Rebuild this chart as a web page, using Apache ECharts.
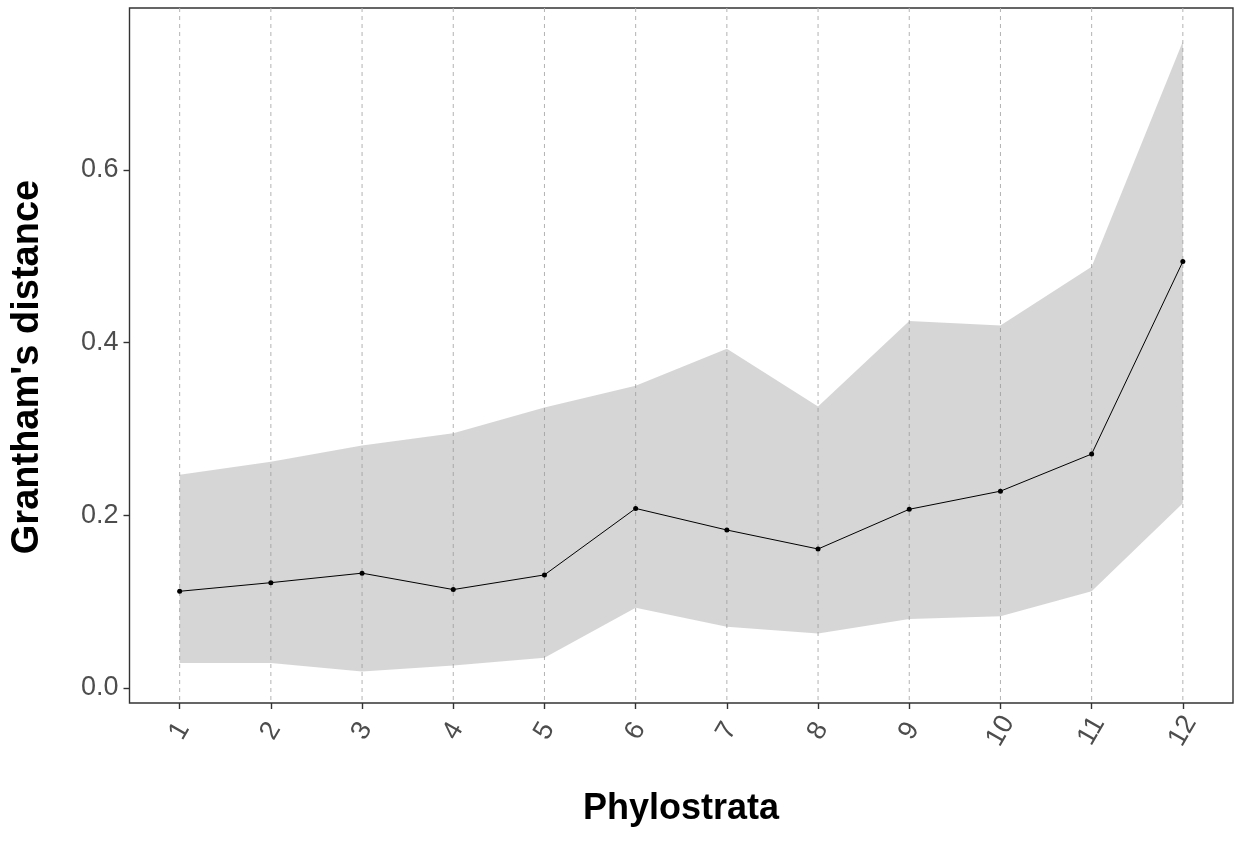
<!DOCTYPE html>
<html>
<head>
<meta charset="utf-8">
<script src="https://cdn.jsdelivr.net/npm/echarts@6/dist/echarts.min.js"></script>
<style>
  html, body { margin: 0; padding: 0; background: #ffffff; }
  #chart { width: 1241px; height: 845px; }
</style>
</head>
<body>
<div id="chart"></div>
<script>
// ---- data ----
var phylostrata = [1, 2, 3, 4, 5, 6, 7, 8, 9, 10, 11, 12];
var meanDistance = [0.112, 0.122, 0.133, 0.114, 0.131, 0.208, 0.183, 0.161, 0.207, 0.228, 0.271, 0.494];
var upperBound   = [0.247, 0.262, 0.281, 0.295, 0.325, 0.350, 0.393, 0.326, 0.425, 0.420, 0.488, 0.749];
var lowerBound   = [0.029, 0.029, 0.019, 0.026, 0.035, 0.093, 0.071, 0.063, 0.080, 0.083, 0.112, 0.214];
var yTicks = [0, 0.2, 0.4, 0.6];
var xTitle = 'Phylostrata';
var yTitle = "Grantham's distance";

var FONT = "'Liberation Sans', Arial, Helvetica, sans-serif";

var chart = echarts.init(document.getElementById('chart'), null, { renderer: 'canvas' });

var ribbonData = phylostrata.map(function (x, i) { return [x, lowerBound[i], upperBound[i]]; });
var meanData = phylostrata.map(function (x, i) { return [x, meanDistance[i]]; });
var gridData = phylostrata.map(function (x) { return [x, 0]; });

var option = {
  backgroundColor: '#ffffff',
  animation: false,
  grid: {
    left: 129.5, right: 8, top: 8, bottom: 142,
    show: true, borderColor: '#333333', borderWidth: 1.4,
    backgroundColor: 'transparent'
  },
  xAxis: {
    type: 'value',
    min: 0.45, max: 12.55,
    axisLine: { show: false, onZero: false },
    splitLine: { show: false },
    axisTick: {
      show: true, length: 6, customValues: phylostrata,
      lineStyle: { color: '#333333', width: 1.4 }
    },
    axisLabel: {
      customValues: phylostrata,
      rotate: 60,
      align: 'center',
      verticalAlign: 'middle',
      margin: 28,
      color: '#4d4d4d',
      fontSize: 27,
      fontFamily: FONT,
      formatter: function (v) { return String(v); }
    }
  },
  yAxis: {
    type: 'value',
    min: -0.0174, max: 0.7877,
    axisLine: { show: false, onZero: false },
    splitLine: { show: false },
    axisTick: {
      show: true, length: 6, customValues: yTicks,
      lineStyle: { color: '#333333', width: 1.4 }
    },
    axisLabel: {
      customValues: yTicks,
      margin: 11,
      color: '#4d4d4d',
      fontSize: 27,
      fontFamily: FONT,
      formatter: function (v) { return v.toFixed(1); }
    }
  },
  series: [
    {
      name: 'gridlines',
      type: 'custom',
      data: gridData,
      encode: { x: 0, y: 1 },
      silent: true,
      z: 1,
      renderItem: function (params, api) {
        var p = api.coord([api.value(0), 0]);
        var cs = params.coordSys;
        return {
          type: 'line',
          shape: { x1: p[0], y1: cs.y, x2: p[0], y2: cs.y + cs.height },
          style: { stroke: '#b3b3b3', lineWidth: 1, lineDash: [4, 4] }
        };
      }
    },
    {
      name: 'ribbon',
      type: 'custom',
      data: ribbonData,
      encode: { x: 0, y: [1, 2] },
      silent: true,
      z: 2,
      renderItem: function (params, api) {
        if (params.dataIndex !== 0) { return null; }
        var pts = [];
        var i;
        for (i = 0; i < phylostrata.length; i++) {
          pts.push(api.coord([phylostrata[i], upperBound[i]]));
        }
        for (i = phylostrata.length - 1; i >= 0; i--) {
          pts.push(api.coord([phylostrata[i], lowerBound[i]]));
        }
        return {
          type: 'polygon',
          shape: { points: pts },
          style: { fill: 'rgba(153,153,153,0.4)', stroke: null }
        };
      }
    },
    {
      name: 'mean',
      type: 'line',
      data: meanData,
      symbol: 'circle',
      symbolSize: 5,
      itemStyle: { color: '#000000' },
      lineStyle: { color: '#000000', width: 1 },
      z: 3
    }
  ],
  graphic: [
    {
      type: 'text',
      x: 681, y: 809,
      style: {
        text: xTitle,
        fontFamily: FONT, fontWeight: 'bold', fontSize: 36,
        fill: '#000000', align: 'center', verticalAlign: 'middle'
      }
    },
    {
      type: 'text',
      x: 28, y: 367,
      rotation: Math.PI / 2,
      style: {
        text: yTitle,
        fontFamily: FONT, fontWeight: 'bold', fontSize: 38,
        fill: '#000000', align: 'center', verticalAlign: 'middle'
      }
    }
  ]
};

chart.setOption(option);
</script>
</body>
</html>
